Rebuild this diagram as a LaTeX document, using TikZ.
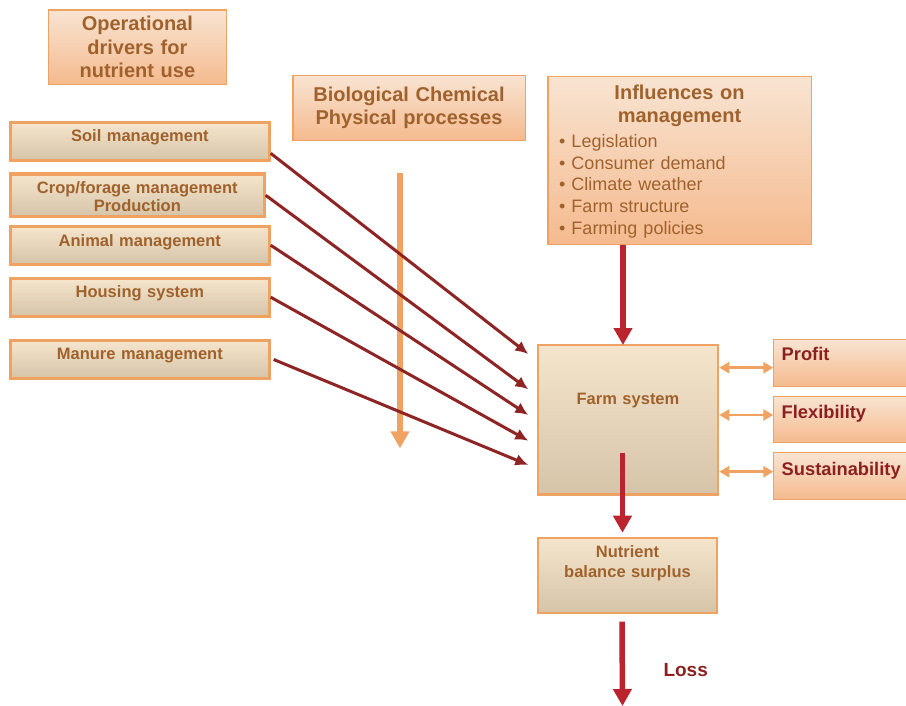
\documentclass[tikz,border=0pt]{standalone}
\usepackage{fontspec}
\setmainfont{Liberation Sans}
\usepackage{tikz}
\usetikzlibrary{arrows.meta}

\definecolor{boxline}{RGB}{240,162,98}
\definecolor{peachtop}{RGB}{248,228,210}
\definecolor{peachbot}{RGB}{245,186,142}
\definecolor{sandtop}{RGB}{245,229,204}
\definecolor{sandbot}{RGB}{213,196,168}
\definecolor{browntext}{RGB}{160,98,45}
\definecolor{redtext}{RGB}{140,32,32}
\definecolor{flowred}{RGB}{186,36,46}
\definecolor{drivered}{RGB}{142,36,36}

\begin{document}
\begin{tikzpicture}[
        x=1pt, y=-1pt,
        headbox/.style={rectangle, draw=boxline, line width=1.2pt, top color=peachtop, bottom color=peachbot,
                        text=browntext, font=\fontsize{20}{23.4}\selectfont\bfseries,
                        align=center, inner xsep=0pt, inner ysep=0pt, anchor=base},
        listtext/.style={text=browntext, font=\fontsize{18}{21.7}\selectfont, align=left,
                        inner sep=0pt, anchor=base west},
        drivebox/.style={rectangle, draw=boxline, line width=3.2pt, top color=sandtop, bottom color=sandbot,
                        text=browntext, font=\fontsize{16.5}{18.4}\selectfont\bfseries, text width=258.5pt,
                        align=center, inner xsep=0pt, inner ysep=0pt, anchor=base},
        sysbox/.style={rectangle, draw=boxline, line width=2.4pt, top color=sandtop, bottom color=sandbot,
                        text=browntext, font=\fontsize{16.5}{19.5}\selectfont\bfseries,
                        align=center, inner xsep=0pt, inner ysep=0pt, anchor=base},
        goalbox/.style={rectangle, draw=boxline, line width=1pt, top color=peachtop, bottom color=peachbot,
                        text=redtext, font=\fontsize{18.3}{21}\selectfont\bfseries, text width=140pt,
                        align=left, inner xsep=7.9pt, inner ysep=0pt, anchor=base west},
        losstext/.style={text=redtext, font=\fontsize{19}{22}\selectfont\bfseries, inner sep=0pt, anchor=base west},
        procarrow/.style={draw=boxline, line width=6pt, -{Triangle[length=17pt,width=18pt]}},
        drivearrow/.style={draw=drivered, line width=3pt, -{Latex[length=13pt,width=12pt]}},
        flowarrow/.style={draw=flowred, line width=5.5pt, -{Triangle[length=17pt,width=18pt]}},
        twoway/.style={draw=boxline, line width=2.8pt, {Triangle[length=10pt,width=11pt]}-{Triangle[length=10pt,width=11pt]}}
    ]
        \useasboundingbox (0,0) rectangle (906,705);

        \node[headbox, text width=178.1pt, text height=20.8pt, text depth=54pt] (opdrivers) at (137.35,30.7) {Operational\\drivers for\\nutrient use};
        \node[headbox, text width=232.2pt, text height=25.4pt, text depth=39.4pt] (processes) at (409,101) {Biological Chemical\\Physical processes};
        \node[headbox, text width=263.2pt, text height=22.7pt, text depth=145.4pt] (influences) at (679.5,99) {Influences on\\management};
        \node[listtext, text width=240pt] (influlist) at (559,147.3) {\textbullet\ Legislation\\\textbullet\ Consumer demand\\\textbullet\ Climate weather\\\textbullet\ Farm structure\\\textbullet\ Farming policies};

        \node[drivebox, text height=19.4pt, text depth=19pt] (soil) at (139.85,141.7) {Soil management};
        \node[drivebox, text width=253.5pt, text height=19.4pt, text depth=23.4pt] (crop) at (137.35,193.3) {Crop/forage management\\Production};
        \node[drivebox, text height=19.7pt, text depth=18.1pt] (animal) at (139.85,246) {Animal management};
        \node[drivebox, text height=19.4pt, text depth=18.4pt] (housing) at (139.85,297.7) {Housing system};
        \node[drivebox, text height=18.7pt, text depth=19.1pt] (manure) at (139.85,359.3) {Manure management};

        \node[sysbox, text width=180.2pt, text height=59.1pt, text depth=90.2pt] (farm) at (628,404.3) {Farm system};
        \node[sysbox, text width=179.2pt, text height=19.8pt, text depth=55.1pt] (surplus) at (627.5,557.7) {Nutrient\\balance surplus};

        \node[goalbox, text height=20.9pt, text depth=25.5pt] (profit) at (773.3,360.7) {Profit};
        \node[goalbox, text height=21.8pt, text depth=24.5pt] (flexibility) at (773.3,418.3) {Flexibility};
        \node[goalbox, text height=22.2pt, text depth=24.5pt] (sustainability) at (773.3,475) {Sustainability};

        \node[losstext] (loss) at (663.3,676.7) {Loss};

        \coordinate (proctop) at (400,173.3);
        \coordinate (procend) at (400,448.3);
        \coordinate (soilin) at ([xshift=-8.4pt,yshift=-10pt]farm.north west);
        \coordinate (cropin) at ([xshift=-8.4pt,yshift=-45.3pt]farm.north west);
        \coordinate (animalin) at ([xshift=-8.4pt,yshift=-71pt]farm.north west);
        \coordinate (housingin) at ([xshift=-8.4pt,yshift=-96.7pt]farm.north west);
        \coordinate (manurein) at ([xshift=-8.4pt,yshift=-121pt]farm.north west);
        \coordinate (farmin) at ([xshift=-5pt,yshift=-1pt]farm.north);
        \coordinate (lossend) at (622.5,706);
        \coordinate (profitlink) at ([yshift=-4.7pt]profit.west);
        \coordinate (flexlink) at ([yshift=4.65pt]flexibility.west);
        \coordinate (sustainlink) at ([yshift=4.45pt]sustainability.west);

        \draw[procarrow] (proctop) -- (procend);

        \draw[drivearrow] ([yshift=-11.8pt]soil.east) -- (soilin);
        \draw[drivearrow] (crop.east) -- (cropin);
        \draw[drivearrow] (animal.east) -- (animalin);
        \draw[drivearrow] (housing.east) -- (housingin);
        \draw[drivearrow] ([xshift=3pt]manure.east) -- (manurein);

        \draw[flowarrow] (influences.south -| farmin) -- (farmin);
        \draw[flowarrow] ([xshift=-5.5pt,yshift=43pt]farm.south) -- ([xshift=-5pt,yshift=4pt]surplus.north);
        \draw[flowarrow] ([xshift=-5.5pt,yshift=-7.7pt]surplus.south) -- (lossend);

        \draw[twoway] (farm.east |- profitlink) -- (profitlink);
        \draw[twoway] (farm.east |- flexlink) -- (flexlink);
        \draw[twoway] (farm.east |- sustainlink) -- (sustainlink);
    \end{tikzpicture}
\end{document}
